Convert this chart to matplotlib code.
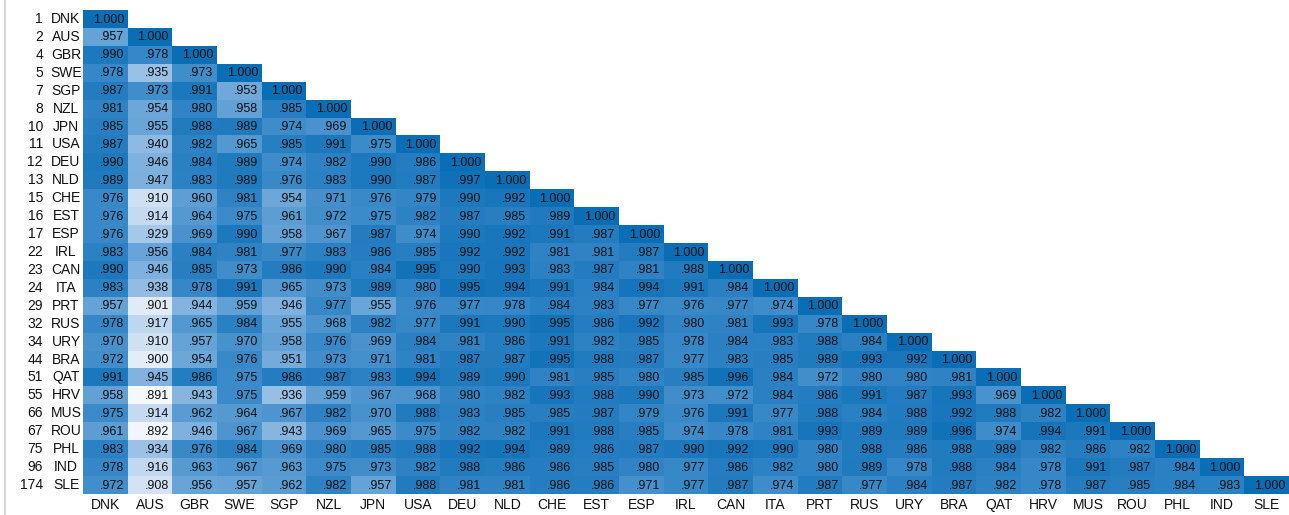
import numpy as np
import matplotlib
matplotlib.use("Agg")
import matplotlib.pyplot as plt
from matplotlib.colors import LinearSegmentedColormap
from matplotlib.transforms import blended_transform_factory
from matplotlib.lines import Line2D

countries = ["DNK", "AUS", "GBR", "SWE", "SGP", "NZL", "JPN", "USA", "DEU", "NLD",
             "CHE", "EST", "ESP", "IRL", "CAN", "ITA", "PRT", "RUS", "URY", "BRA",
             "QAT", "HRV", "MUS", "ROU", "PHL", "IND", "SLE"]
ranks = [1, 2, 4, 5, 7, 8, 10, 11, 12, 13, 15, 16, 17, 22, 23, 24, 29, 32, 34, 44,
         51, 55, 66, 67, 75, 96, 174]

# lower-triangle values (row i has i values before the diagonal)
lower_rows = [
    [],
    [.957],
    [.990, .978],
    [.978, .935, .973],
    [.987, .973, .991, .953],
    [.981, .954, .980, .958, .985],
    [.985, .955, .988, .989, .974, .969],
    [.987, .940, .982, .965, .985, .991, .975],
    [.990, .946, .984, .989, .974, .982, .990, .986],
    [.989, .947, .983, .989, .976, .983, .990, .987, .997],
    [.976, .910, .960, .981, .954, .971, .976, .979, .990, .992],
    [.976, .914, .964, .975, .961, .972, .975, .982, .987, .985, .989],
    [.976, .929, .969, .990, .958, .967, .987, .974, .990, .992, .991, .987],
    [.983, .956, .984, .981, .977, .983, .986, .985, .992, .992, .981, .981, .987],
    [.990, .946, .985, .973, .986, .990, .984, .995, .990, .993, .983, .987, .981, .988],
    [.983, .938, .978, .991, .965, .973, .989, .980, .995, .994, .991, .984, .994, .991, .984],
    [.957, .901, .944, .959, .946, .977, .955, .976, .977, .978, .984, .983, .977, .976, .977, .974],
    [.978, .917, .965, .984, .955, .968, .982, .977, .991, .990, .995, .986, .992, .980, .981, .993, .978],
    [.970, .910, .957, .970, .958, .976, .969, .984, .981, .986, .991, .982, .985, .978, .984, .983, .988, .984],
    [.972, .900, .954, .976, .951, .973, .971, .981, .987, .987, .995, .988, .987, .977, .983, .985, .989, .993, .992],
    [.991, .945, .986, .975, .986, .987, .983, .994, .989, .990, .981, .985, .980, .985, .996, .984, .972, .980, .980, .981],
    [.958, .891, .943, .975, .936, .959, .967, .968, .980, .982, .993, .988, .990, .973, .972, .984, .986, .991, .987, .993, .969],
    [.975, .914, .962, .964, .967, .982, .970, .988, .983, .985, .985, .987, .979, .976, .991, .977, .988, .984, .988, .992, .988, .982],
    [.961, .892, .946, .967, .943, .969, .965, .975, .982, .982, .991, .988, .985, .974, .978, .981, .993, .989, .989, .996, .974, .994, .991],
    [.983, .934, .976, .984, .969, .980, .985, .988, .992, .994, .989, .986, .987, .990, .992, .990, .980, .988, .986, .988, .989, .982, .986, .982],
    [.978, .916, .963, .967, .963, .975, .973, .982, .988, .986, .986, .985, .980, .977, .986, .982, .980, .989, .978, .988, .984, .978, .991, .987, .984],
    [.972, .908, .956, .957, .962, .982, .957, .988, .981, .981, .986, .986, .971, .977, .987, .974, .987, .977, .984, .987, .982, .978, .987, .985, .984, .983],
]
diagonal_value = 1.000

n = len(countries)
mat = np.full((n, n), np.nan)
for i, row in enumerate(lower_rows):
    for j, v in enumerate(row):
        mat[i, j] = v
    mat[i, i] = diagonal_value
masked = np.ma.masked_invalid(mat)

cmap = LinearSegmentedColormap.from_list(
    "ref_blues",
    [(0.0, "#f4f7fc"), (0.10, "#e0eaf7"), (0.40, "#9ac1e6"),
     (0.60, "#67a4d7"), (0.80, "#3587c7"), (1.0, "#0a6eb6")])

W, H = 1289, 515
fig = plt.figure(figsize=(W / 100, H / 100), dpi=100)
left_px, right_px, top_px, bottom_px = 83, 1289, 10, 494
ax = fig.add_axes([left_px / W, 1 - bottom_px / H,
                   (right_px - left_px) / W, (bottom_px - top_px) / H])
ax.imshow(masked, cmap=cmap, vmin=0.891, vmax=1.0, aspect="auto",
          interpolation="nearest")

font = "Liberation Sans"
cell_w = (right_px - left_px) / n
pad = 3.5 / cell_w
for i in range(n):
    for j in range(i + 1):
        v = mat[i, j]
        s = "1.000" if v >= 1.0 else f"{v:.3f}"[1:]
        ax.text(j + 0.5 - pad, i + 0.03, s, ha="right", va="center",
                fontsize=9, family=font, color="#111111")

ax.set_xlim(-0.5, n - 0.5)
ax.set_ylim(n - 0.5, -0.5)
ax.set_xticks(range(n))
ax.set_xticklabels(countries, family=font, fontsize=10, color="#111111")
ax.tick_params(axis="x", length=0, pad=3)
ax.set_yticks([])
for sp in ax.spines.values():
    sp.set_visible(False)

tr = blended_transform_factory(fig.transFigure, ax.transData)
for i in range(n):
    ax.text(43 / W, i, str(ranks[i]), transform=tr, ha="right", va="center",
            fontsize=10, family=font, color="#111111")
    ax.text(66 / W, i, countries[i], transform=tr, ha="center", va="center",
            fontsize=10, family=font, color="#111111")

fig.add_artist(Line2D([5 / W, 5 / W], [0, 1], transform=fig.transFigure,
                      color="#d0d0d0", lw=1.2))

fig.savefig("out.png", dpi=100)
